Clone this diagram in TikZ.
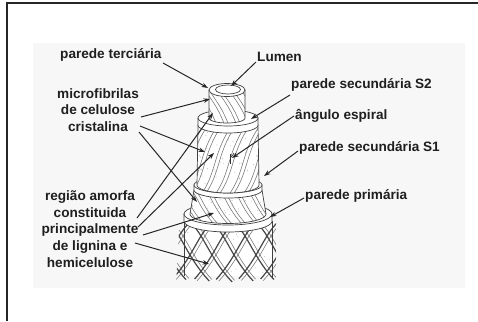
\documentclass[tikz,border=0pt]{standalone}
\usepackage{fontspec}
\setmainfont{Liberation Sans}
\usetikzlibrary{arrows.meta}

% body of one wall layer: style, cx, y top, rx top, y bottom, rx bottom, ry bottom
\newcommand\layerbody[7]{%
  \path[#1] (#2-#4,#3) -- (#2-#6,#5) -- plot[domain=180:0,samples=40] ({#2+#6*cos(\x)},{#5+#7*sin(\x)}) -- (#2+#4,#3) -- cycle;}
% raised rim on top of a layer: cx, y centre, rx, ry, band height
\newcommand\collar[5]{%
  \path[outline,fill=white] (#1-#3,#2) -- (#1-#3,#2+#5) -- plot[domain=180:0,samples=40] ({#1+#3*cos(\x)},{#2+#5+#4*sin(\x)}) -- (#1+#3,#2) -- cycle;
  \path[outline,fill=white] (#1,#2) ellipse [x radius=#3pt, y radius=#4pt];}

\begin{document}
\begin{tikzpicture}[x=1pt,y=-1pt,
  lbl/.style={font=\bfseries\fontsize{13.6}{16.8}\selectfont, text=black!88, inner sep=0pt},
  pointer/.style={-{Stealth[length=6.5pt,width=4.5pt]}, line width=1pt, draw=black!85},
  outline/.style={draw=black!75, line width=0.7pt},
  fibre/.style={draw=black!55, line width=0.55pt},
  mesh/.style={draw=black!72, line width=1.2pt}]

\useasboundingbox (0,0) rectangle (478,321);
\fill[white] (0,0) rectangle (478,321);
\fill[black!3] (33,43) rectangle (465,288);
\draw[line width=2pt, black!85] (7,321) -- (7,3) -- (478,3);

\pgfmathsetseed{11}

% ---- primary wall: crossed fibre mesh with frayed lower end
\fill[white] (184,221) rectangle (272,276);
\begin{scope}
  \clip (180,218) -- (276,218) -- (276,278) -- (268,284) -- (258,277) -- (248,285)
        -- (238,278) -- (226,286) -- (214,278) -- (203,285) -- (192,277) -- (176,284) -- cycle;
  \foreach \s in {-84,-62,...,40} {
    \draw[mesh] (228+\s,220) .. controls (228+\s+18,236) and (228+\s+20,258) .. (228+\s+48,286);
    \draw[fibre] (228+\s+4,220) .. controls (228+\s+22,236) and (228+\s+24,258) .. (228+\s+52,286);
  }
  \foreach \s in {-36,-14,...,88} {
    \draw[mesh] (228+\s,220) .. controls (228+\s-18,236) and (228+\s-20,258) .. (228+\s-48,286);
    \draw[fibre] (228+\s+4,220) .. controls (228+\s-14,236) and (228+\s-16,258) .. (228+\s-44,286);
  }
  \foreach \i in {1,...,30} \fill[black!35] ({228+42*rand},{250+26*rand}) circle (0.45pt);
\end{scope}
\draw[outline] (184,221) -- (184,276);
\draw[outline] (272,221) -- (272,278);
\collar{228}{214}{44}{11}{7}

% ---- secondary wall S1
\layerbody{fill=white}{228}{190}{34}{214}{38}{9.5}
\begin{scope}
  \layerbody{clip}{228}{190}{34}{214}{38}{9.5}
  \foreach \s in {-70,-56,...,40} {
    \draw[fibre] (228+\s,184) .. controls (228+\s+12,194) and (228+\s+12,208) .. (228+\s+30,226);
    \draw[fibre] (228+\s+4,184) .. controls (228+\s+16,194) and (228+\s+16,208) .. (228+\s+34,226);
  }
  \foreach \i in {1,...,40} \fill[black!35] ({228+36*rand},{205+12*rand}) circle (0.45pt);
\end{scope}
\layerbody{outline}{228}{190}{34}{214}{38}{9.5}
\collar{228}{185}{34}{8}{5}

% ---- secondary wall S2
\layerbody{fill=white}{228}{125}{30}{185}{31}{8}
\begin{scope}
  \layerbody{clip}{228}{125}{30}{185}{31}{8}
  \foreach \s in {-70,-56,...,30} {
    \draw[fibre] (228+\s,196) .. controls (228+\s+18,172) and (228+\s+12,150) .. (228+\s+36,120);
    \draw[fibre] (228+\s+4,196) .. controls (228+\s+22,172) and (228+\s+16,150) .. (228+\s+40,120);
  }
  \foreach \i in {1,...,50} \fill[black!35] ({228+30*rand},{155+30*rand}) circle (0.45pt);
\end{scope}
\layerbody{outline}{228}{125}{30}{185}{31}{8}
\collar{228}{118}{30}{8}{7}

% spiral angle mark
\draw[black!80, line width=0.7pt] (230,154) -- (230,164);
\draw[black!80, line width=0.7pt] (230,158) .. controls (232,157) and (233,155) .. (234,153);

% ---- tertiary wall tube
\layerbody{fill=white}{227}{90}{18}{118}{18}{5}
\begin{scope}
  \layerbody{clip}{227}{90}{18}{118}{18}{5}
  \foreach \s in {-36,-24,...,12} {
    \draw[fibre] (227+\s,86) .. controls (227+\s+6,98) and (227+\s+14,104) .. (227+\s+22,126);
    \draw[fibre] (227+\s+4,86) .. controls (227+\s+10,98) and (227+\s+18,104) .. (227+\s+26,126);
  }
\end{scope}
\layerbody{outline}{227}{90}{18}{118}{18}{5}
\path[outline,fill=white] (227,90) ellipse [x radius=18pt, y radius=6.5pt];
\path[outline,fill=white] (228,89.5) ellipse [x radius=12.5pt, y radius=4.5pt];

% ---- labels
\node[lbl, anchor=west] (terc) at (60,55) {parede terciária};
\node[lbl, anchor=west] (lumen) at (257,57) {Lumen};
\node[lbl, anchor=west] (sec2) at (291,85) {parede secundária S2};
\node[lbl, anchor=west] (ang) at (295,116) {ângulo espiral};
\node[lbl, anchor=west] (sec1) at (299,148) {parede secundária S1};
\node[lbl, anchor=west] (prim) at (305,196) {parede primária};
\node[lbl, align=center] (micro) at (98,110) {microfibrilas\\de celulose\\cristalina};
\node[lbl, align=center] (regiao) at (90,229) {região amorfa\\constituida\\principalmente\\de lignina e\\hemicelulose};

% ---- pointer ends
\coordinate (pTerc) at (163,63);   \coordinate (qTerc) at (208,88);
\coordinate (pLum) at (256,62);    \coordinate (qLum) at (231,86);
\coordinate (pMic) at (141,117);   \coordinate (qMic) at (210,99);
\coordinate (pCrA) at (140,126);   \coordinate (qCrA) at (205,152);
\coordinate (pCrB) at (139,132);   \coordinate (qCrB) at (197,202);
\coordinate (pReA) at (137,218);   \coordinate (qReA) at (213,113);
\coordinate (pReB) at (138,227);   \coordinate (qReB) at (214,153);
\coordinate (pReC) at (143,235);   \coordinate (qReC) at (214,213);
\coordinate (pReD) at (135,243);   \coordinate (qReD) at (209,264);
\coordinate (pS2) at (290,95);     \coordinate (qS2) at (251,119);
\coordinate (pAng) at (294,116);   \coordinate (qAng) at (232,158);
\coordinate (pS1) at (298,151);    \coordinate (qS1) at (264,176);
\coordinate (pPri) at (304,198);   \coordinate (qPri) at (270,217);

\foreach \a in {Terc,Lum,Mic,CrA,CrB,ReA,ReB,ReC,ReD,S2,Ang,S1,Pri}
  \draw[pointer] (p\a) -- (q\a);

\end{tikzpicture}
\end{document}
